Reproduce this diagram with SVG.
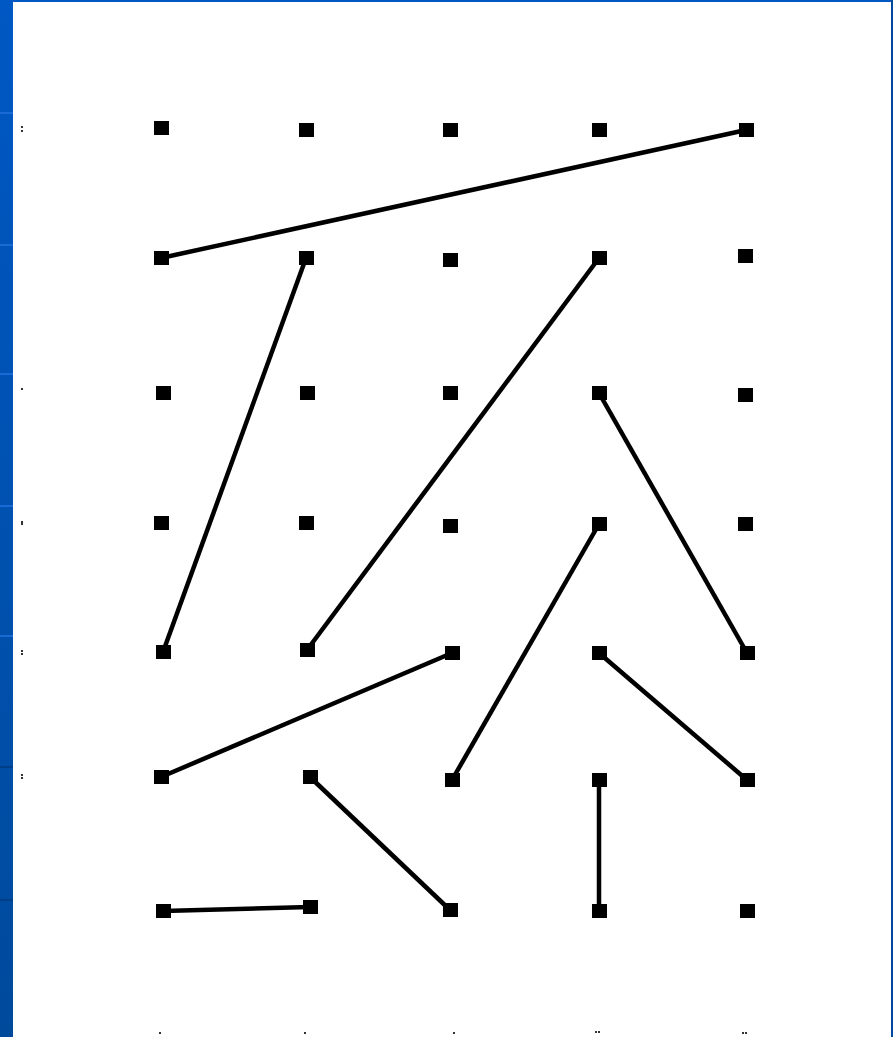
<svg xmlns="http://www.w3.org/2000/svg" width="893" height="1037" viewBox="0 0 893 1037">
<defs>
<style>
.dot{fill:#000}
.ln{stroke:#000;stroke-width:4.5;stroke-linecap:butt;fill:none}
.spk{fill:#333}
.sep{stroke:#1a6ad6;stroke-width:2}
</style>
<linearGradient id="bg" x1="0" y1="0" x2="0" y2="1">
<stop offset="0" stop-color="#0058c4"/>
<stop offset="1" stop-color="#004a9c"/>
</linearGradient>
</defs>
<rect x="0" y="0" width="893" height="1037" fill="#ffffff"/>
<g id="frame">
<rect x="0" y="0" width="13" height="1037" fill="url(#bg)"/>
<rect x="0" y="0" width="893" height="2" fill="#0058c4"/>
<rect x="891" y="0" width="2" height="1037" fill="#0048a0"/>
<line class="sep" x1="0" y1="113" x2="13" y2="113"/>
<line class="sep" x1="0" y1="245" x2="13" y2="245"/>
<line class="sep" x1="0" y1="374" x2="13" y2="374"/>
<line class="sep" x1="0" y1="506" x2="13" y2="506"/>
<line class="sep" x1="0" y1="636" x2="13" y2="636"/>
<line x1="0" y1="767" x2="13" y2="767" stroke="#003f88" stroke-width="2"/>
<line x1="0" y1="900" x2="13" y2="900" stroke="#003f88" stroke-width="2"/>
</g>
<g id="connectors">
<line class="ln" x1="161" y1="258" x2="746" y2="130"/>
<line class="ln" x1="306" y1="258" x2="163" y2="652"/>
<line class="ln" x1="599" y1="258" x2="307" y2="650"/>
<line class="ln" x1="599" y1="393" x2="747" y2="653"/>
<line class="ln" x1="599" y1="524" x2="452" y2="780"/>
<line class="ln" x1="452" y1="653" x2="161" y2="777"/>
<line class="ln" x1="599" y1="653" x2="747" y2="780"/>
<line class="ln" x1="310" y1="777" x2="450" y2="910"/>
<line class="ln" x1="599" y1="780" x2="599" y2="911"/>
<line class="ln" x1="163" y1="911" x2="310" y2="907"/>
</g>
<g id="row1">
<rect id="n11" class="dot" x="154" y="121" width="15" height="14"/>
<rect id="n12" class="dot" x="299" y="123" width="15" height="14"/>
<rect id="n13" class="dot" x="443" y="123" width="15" height="14"/>
<rect id="n14" class="dot" x="592" y="123" width="15" height="14"/>
<rect id="n15" class="dot" x="739" y="123" width="15" height="14"/>
</g>
<g id="row2">
<rect id="n21" class="dot" x="154" y="251" width="15" height="14"/>
<rect id="n22" class="dot" x="299" y="251" width="15" height="14"/>
<rect id="n23" class="dot" x="443" y="253" width="15" height="14"/>
<rect id="n24" class="dot" x="592" y="251" width="15" height="14"/>
<rect id="n25" class="dot" x="738" y="249" width="15" height="14"/>
</g>
<g id="row3">
<rect id="n31" class="dot" x="156" y="386" width="15" height="14"/>
<rect id="n32" class="dot" x="300" y="386" width="15" height="14"/>
<rect id="n33" class="dot" x="443" y="386" width="15" height="14"/>
<rect id="n34" class="dot" x="592" y="386" width="15" height="14"/>
<rect id="n35" class="dot" x="738" y="388" width="15" height="14"/>
</g>
<g id="row4">
<rect id="n41" class="dot" x="154" y="516" width="15" height="14"/>
<rect id="n42" class="dot" x="299" y="516" width="15" height="14"/>
<rect id="n43" class="dot" x="443" y="519" width="15" height="14"/>
<rect id="n44" class="dot" x="592" y="517" width="15" height="14"/>
<rect id="n45" class="dot" x="738" y="517" width="15" height="14"/>
</g>
<g id="row5">
<rect id="n51" class="dot" x="156" y="645" width="15" height="14"/>
<rect id="n52" class="dot" x="300" y="643" width="15" height="14"/>
<rect id="n53" class="dot" x="445" y="646" width="15" height="14"/>
<rect id="n54" class="dot" x="592" y="646" width="15" height="14"/>
<rect id="n55" class="dot" x="740" y="646" width="15" height="14"/>
</g>
<g id="row6">
<rect id="n61" class="dot" x="154" y="770" width="15" height="14"/>
<rect id="n62" class="dot" x="303" y="770" width="15" height="14"/>
<rect id="n63" class="dot" x="445" y="773" width="15" height="14"/>
<rect id="n64" class="dot" x="592" y="773" width="15" height="14"/>
<rect id="n65" class="dot" x="740" y="773" width="15" height="14"/>
</g>
<g id="row7">
<rect id="n71" class="dot" x="156" y="904" width="15" height="14"/>
<rect id="n72" class="dot" x="303" y="900" width="15" height="14"/>
<rect id="n73" class="dot" x="443" y="903" width="15" height="14"/>
<rect id="n74" class="dot" x="592" y="904" width="15" height="14"/>
<rect id="n75" class="dot" x="740" y="904" width="15" height="14"/>
</g>
<g id="specks">
<rect class="spk" x="21" y="126" width="2" height="2"/>
<rect class="spk" x="21" y="130" width="2" height="2"/>
<rect class="spk" x="21" y="388" width="2" height="2"/>
<rect class="spk" x="21" y="521" width="2" height="4"/>
<rect class="spk" x="21" y="650" width="2" height="2"/>
<rect class="spk" x="21" y="653" width="2" height="2"/>
<rect class="spk" x="21" y="774" width="2" height="2"/>
<rect class="spk" x="21" y="777" width="2" height="2"/>
<rect class="spk" x="159" y="1032" width="2" height="2"/>
<rect class="spk" x="304" y="1032" width="2" height="2"/>
<rect class="spk" x="453" y="1032" width="2" height="2"/>
<rect class="spk" x="595" y="1031" width="2" height="2"/>
<rect class="spk" x="598" y="1031" width="2" height="2"/>
<rect class="spk" x="742" y="1032" width="2" height="2"/>
<rect class="spk" x="745" y="1032" width="2" height="2"/>
</g>
</svg>
